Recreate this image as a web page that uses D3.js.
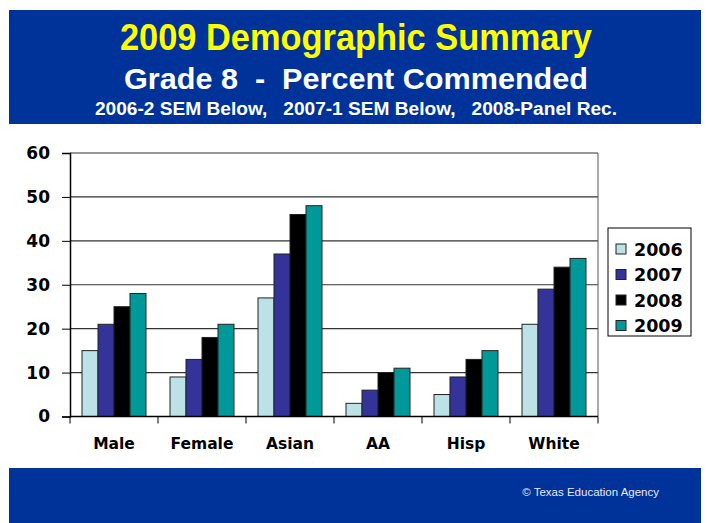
<!DOCTYPE html>
<html>
<head>
<meta charset="utf-8">
<script src="https://cdn.jsdelivr.net/npm/d3@7"></script>
<style>
  html, body { margin: 0; padding: 0; background: #fff; }
  svg { display: block; }
</style>
</head>
<body>
<svg id="chart" width="707" height="523"></svg>
<script>
// ── Data ─────────────────────────────────────────────
const groups = ['Male', 'Female', 'Asian', 'AA', 'Hisp', 'White'];
const years  = ['2006', '2007', '2008', '2009'];
const v2006  = [15, 9, 27, 3, 5, 21];
const v2007  = [21, 13, 37, 6, 9, 29];
const v2008  = [25, 18, 46, 10, 13, 34];
const v2009  = [28, 21, 48, 11, 15, 36];
const yTicks = [0, 10, 20, 30, 40, 50, 60];
const colors = ['#bde2e5', '#333399', '#000000', '#009999'];

const series = [v2006, v2007, v2008, v2009];

const svg = d3.select('#chart');
const BLUE = '#003399';

// ── Header / footer bands ────────────────────────────
svg.append('rect').attr('x', 9).attr('y', 10).attr('width', 692).attr('height', 114).attr('fill', BLUE);
svg.append('rect').attr('x', 9).attr('y', 468).attr('width', 692).attr('height', 55).attr('fill', BLUE);

const cx = 356;
svg.append('text').attr('x', cx).attr('y', 50).attr('text-anchor', 'middle')
  .attr('font-family', 'Liberation Sans, Arial, sans-serif').attr('font-weight', 700)
  .attr('font-size', '36px').attr('fill', '#ffff00')
  .attr('textLength', 472).attr('lengthAdjust', 'spacingAndGlyphs')
  .text('2009 Demographic Summary');
svg.append('text').attr('x', cx).attr('y', 89).attr('text-anchor', 'middle')
  .attr('font-family', 'Liberation Sans, Arial, sans-serif').attr('font-weight', 700)
  .attr('font-size', '30px').attr('fill', '#ffffff')
  .style('white-space', 'pre')
  .attr('textLength', 464).attr('lengthAdjust', 'spacingAndGlyphs')
  .text('Grade 8  -  Percent Commended');
svg.append('text').attr('x', cx).attr('y', 115).attr('text-anchor', 'middle')
  .attr('font-family', 'Liberation Sans, Arial, sans-serif').attr('font-weight', 700)
  .attr('font-size', '18px').attr('fill', '#ffffff')
  .style('white-space', 'pre')
  .attr('textLength', 522).attr('lengthAdjust', 'spacingAndGlyphs')
  .text('2006-2 SEM Below,   2007-1 SEM Below,   2008-Panel Rec.');

svg.append('text').attr('x', 659).attr('y', 496).attr('text-anchor', 'end')
  .attr('font-family', 'Liberation Sans, Arial, sans-serif')
  .attr('font-size', '11.5px').attr('fill', '#e6e8f2')
  .text('\u00a9 Texas Education Agency');

// ── Chart ────────────────────────────────────────────
const L = 70, R = 598, T = 153, B = 416.5;

const x0 = d3.scaleBand().domain(groups).range([L, R])
  .paddingInner(24 / 88).paddingOuter(12 / 88);
const x1 = d3.scaleBand().domain(years).range([0, x0.bandwidth()]);
const y = d3.scaleLinear().domain([0, 60]).range([B, T]);

const g = svg.append('g');

// gridlines
g.selectAll('.grid').data(yTicks.slice(1)).enter().append('line')
  .attr('x1', L).attr('x2', R)
  .attr('y1', d => y(d)).attr('y2', d => y(d))
  .attr('stroke', '#333').attr('stroke-width', 1.2);

// right border
g.append('line').attr('x1', R).attr('x2', R).attr('y1', T).attr('y2', B)
  .attr('stroke', '#555').attr('stroke-width', 1);

// bars
groups.forEach((grp, gi) => {
  years.forEach((yr, si) => {
    const v = series[si][gi];
    g.append('rect')
      .attr('x', x0(grp) + x1(yr))
      .attr('y', y(v))
      .attr('width', x1.bandwidth())
      .attr('height', y(0) - y(v))
      .attr('fill', colors[si])
      .attr('stroke', '#222').attr('stroke-width', 1);
  });
});

// y axis
const yAxis = g.append('g').attr('transform', `translate(${L},0)`)
  .call(d3.axisLeft(y).tickValues(yTicks).tickSize(8).tickPadding(12));
yAxis.select('.domain').attr('stroke', '#000').attr('stroke-width', 1.5);
yAxis.selectAll('.tick line').attr('stroke', '#000');
yAxis.selectAll('text').attr('font-family', 'DejaVu Sans, Verdana, sans-serif')
  .attr('font-weight', 700).attr('font-size', '17px').attr('fill', '#000');

// x axis
const xb = d3.scaleLinear().domain([0, groups.length]).range([L, R]);
const xAxis = g.append('g').attr('transform', `translate(0,${B})`);
xAxis.append('line').attr('x1', L).attr('x2', R).attr('stroke', '#000').attr('stroke-width', 1.5);
xAxis.selectAll('.xt').data(d3.range(groups.length + 1)).enter().append('line')
  .attr('x1', d => xb(d)).attr('x2', d => xb(d)).attr('y1', 0).attr('y2', 7)
  .attr('stroke', '#000');
xAxis.selectAll('.xl').data(groups).enter().append('text')
  .attr('x', d => x0(d) + x0.bandwidth() / 2).attr('y', 32)
  .attr('text-anchor', 'middle')
  .attr('font-family', 'DejaVu Sans, Verdana, sans-serif')
  .attr('font-weight', 700).attr('font-size', '15.5px').attr('fill', '#000')
  .text(d => d);

// legend
const lg = svg.append('g').attr('transform', 'translate(608,228)');
lg.append('rect').attr('x', 0).attr('y', 0).attr('width', 83).attr('height', 108)
  .attr('fill', '#fff').attr('stroke', '#000').attr('stroke-width', 1);
years.forEach((yr, i) => {
  const cy = 21 + i * 25.5;
  lg.append('rect').attr('x', 8).attr('y', cy - 5).attr('width', 10).attr('height', 10)
    .attr('fill', colors[i]).attr('stroke', '#222').attr('stroke-width', 1);
  lg.append('text').attr('x', 26).attr('y', cy + 6.5)
    .attr('font-family', 'DejaVu Sans, Verdana, sans-serif')
    .attr('font-weight', 700).attr('font-size', '17.5px').attr('fill', '#000')
    .text(yr);
});
</script>
</body>
</html>
